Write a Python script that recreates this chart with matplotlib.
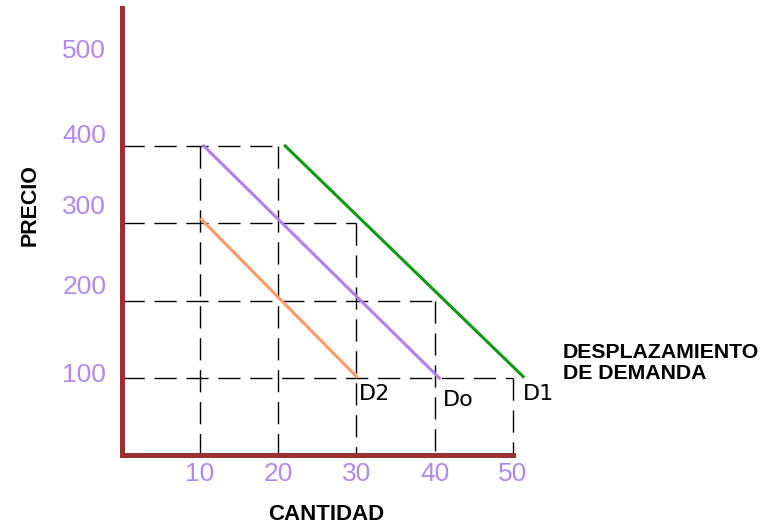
import numpy as np
import matplotlib
matplotlib.use('Agg')
import matplotlib.pyplot as plt
import matplotlib.transforms as mtransforms

# demand curves (cantidad, precio)
do_q = [10.5, 40.6]
do_p = [400, 100]
d2_q = [10.2, 30.0]
d2_p = [305, 102]
d1_q = [20.9, 51.3]
d1_p = [400, 102]

# dashed reference lines
h_levels = [400, 300, 200, 100]
h_ends = [20, 30, 40, 50]
v_pos = [10, 20, 30, 40, 50]
v_tops = [400, 400, 300, 200, 100]

x_ticks = [10, 20, 30, 40, 50]
y_ticks = [100, 200, 300, 400, 500]

curve_labels = ['D2', 'Do', 'D1']
label_q = [30.3, 41.0, 51.2]
label_p = [80, 72, 80]

axis_col = '#9b3232'
tick_col = '#b388f2'
purple = '#b07ff0'
orange = '#ff9a66'
green = '#0f9a0f'

plt.rcParams['font.family'] = ['Liberation Sans', 'DejaVu Sans']

fig = plt.figure(figsize=(7.68, 5.26), dpi=100)
ax = fig.add_axes([0, 0, 1, 1])
ax.set_facecolor('white')
ax.set_xlim(-15.52, 82.57)
ax.set_ylim(-91.1, 588.5)

dash = (0, (16, 7))
for p, qe in zip(h_levels, h_ends):
    ax.plot([0, qe], [p, p], color='black', lw=1.0, linestyle=dash, zorder=1)
for q, pt in zip(v_pos, v_tops):
    ax.plot([q, q], [pt, 0], color='black', lw=1.0, linestyle=dash, zorder=1)

ax.plot(d2_q, d2_p, color=orange, lw=2.2, zorder=2)
ax.plot(do_q, do_p, color=purple, lw=2.2, zorder=2)
ax.plot(d1_q, d1_p, color=green, lw=2.2, zorder=2)

for name, q, p in zip(curve_labels, label_q, label_p):
    ax.text(q, p, name, fontsize=16, family='DejaVu Sans', va='center', ha='left')

# axes as spines through the origin
for s in ['top', 'right']:
    ax.spines[s].set_visible(False)
ax.spines['left'].set_position(('data', 0))
ax.spines['bottom'].set_position(('data', 0))
ax.spines['left'].set_bounds(0, 578)
ax.spines['bottom'].set_bounds(0, 50)
for s in ['left', 'bottom']:
    ax.spines[s].set_color(axis_col)
    ax.spines[s].set_linewidth(3.6)
    ax.spines[s].set_capstyle('projecting')
    ax.spines[s].set_zorder(3)

ax.set_xticks(x_ticks)
ax.set_yticks(y_ticks)
ax.tick_params(axis='both', length=0, labelcolor=tick_col, labelsize=19)
ax.tick_params(axis='x', pad=5)
ax.tick_params(axis='y', pad=11)
# y labels sit a bit above their levels, unevenly (pixels)
y_lift = [6, 16, 19, 12, 20]
for lab, up in zip(ax.get_yticklabels(), y_lift):
    off = mtransforms.ScaledTranslation(0, up / 100, fig.dpi_scale_trans)
    lab.set_transform(lab.get_transform() + off)

fig.text(30 / 768, 1 - 205 / 526, 'PRECIO', rotation=90, fontsize=15.5,
         fontweight='bold', ha='center', va='center')
fig.text(326 / 768, 1 - 514 / 526, 'CANTIDAD', fontsize=16,
         fontweight='bold', ha='center', va='center')
fig.text(563 / 768, 1 - 363 / 526, 'DESPLAZAMIENTO\nDE DEMANDA', fontsize=15.3,
         fontweight='bold', ha='left', va='center', linespacing=1.1)

plt.savefig('out.png', dpi=100, facecolor='white')
